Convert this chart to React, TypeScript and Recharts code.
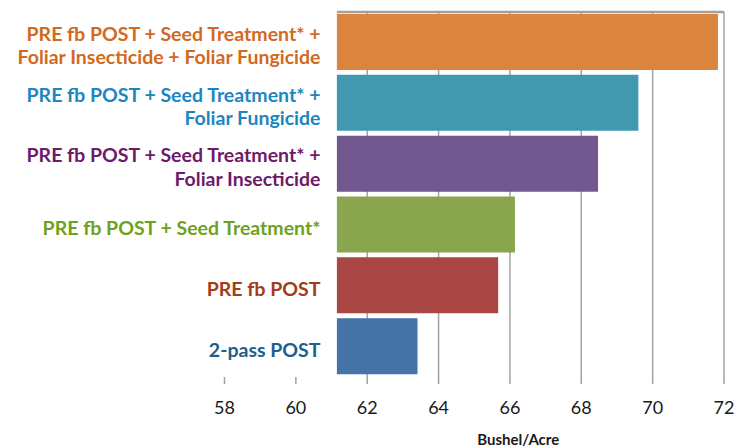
import { BarChart, Bar, XAxis, YAxis, CartesianGrid, ReferenceLine, Cell } from 'recharts';

// Yield by treatment program (bu/A), top to bottom as shown
const treatments = [
  'PRE fb POST + Seed Treatment* + Foliar Insecticide + Foliar Fungicide',
  'PRE fb POST + Seed Treatment* + Foliar Fungicide',
  'PRE fb POST + Seed Treatment* + Foliar Insecticide',
  'PRE fb POST + Seed Treatment*',
  'PRE fb POST',
  '2-pass POST',
];

// how each label wraps in the original
const labelLines = [
  ['PRE fb POST + Seed Treatment* +', 'Foliar Insecticide + Foliar Fungicide'],
  ['PRE fb POST + Seed Treatment* +', 'Foliar Fungicide'],
  ['PRE fb POST + Seed Treatment* +', 'Foliar Insecticide'],
  ['PRE fb POST + Seed Treatment*'],
  ['PRE fb POST'],
  ['2-pass POST'],
];

const yields = [71.83, 69.6, 68.47, 66.14, 65.67, 63.41];

const xTicks = [58, 60, 62, 64, 66, 68, 70, 72];
const xDomain = [58, 72];

// the left part of the plot is hidden behind the label box in the original
const visibleFrom = 61.15;

const barColors = ['#DB843D', '#4198AF', '#71588F', '#89A54E', '#AA4643', '#4572A7'];
const labelColors = ['#D2691E', '#1C86C0', '#6D1A6B', '#6FA121', '#A23C18', '#1D5F8E'];

const data = treatments.map((name, i) => ({ name, range: [visibleFrom, yields[i]] }));

const gridTicks = xTicks.filter((t) => t > visibleFrom);

function TreatmentTick({ x, y, payload }: any) {
  const i = treatments.indexOf(payload.value);
  const lines = labelLines[i] || [payload.value];
  const lh = 23.5;
  const first = -((lines.length - 1) * lh) / 2 + 7;
  const tx = x + 96;
  return (
    <text
      x={tx}
      y={y + 3}
      textAnchor="end"
      fill={labelColors[i]}
      style={{ fontFamily: 'Lato', fontWeight: 700, fontSize: 19.5 }}
    >
      {lines.map((line, k) => (
        <tspan key={k} x={tx} dy={k === 0 ? first : lh}>
          {line}
        </tspan>
      ))}
    </text>
  );
}

export default function App() {
  return (
    <div style={{ position: 'absolute', left: 0, top: 0, background: '#fff' }}>
      <BarChart
        width={737}
        height={448}
        data={data}
        layout="vertical"
        margin={{ top: 12, right: 13, bottom: 0, left: 0 }}
        style={{ fontFamily: 'Lato' }}
      >
        <CartesianGrid
          horizontal={false}
          stroke="#a3a3a3"
          strokeWidth={1.5}
          verticalCoordinatesGenerator={({ xAxis, offset }: any) =>
            gridTicks.map((t) =>
              xAxis && typeof xAxis.scale === 'function'
                ? xAxis.scale(t)
                : offset.left + ((t - xDomain[0]) / (xDomain[1] - xDomain[0])) * offset.width
            )
          }
        />
        <XAxis
          type="number"
          domain={xDomain}
          ticks={xTicks}
          interval={0}
          axisLine={false}
          tickLine={{ stroke: '#a0a0a0', strokeWidth: 1.5 }}
          tickSize={7}
          tickMargin={17}
          height={71}
          tick={{ fill: '#1a1a1a', fontSize: 18 }}
          label={{
            value: 'Bushel/Acre',
            position: 'insideBottom',
            offset: 0,
            dx: 44,
            dy: -3,
            style: { fill: '#1a1a1a', fontWeight: 700, fontSize: 15 },
          }}
        />
        <YAxis
          type="category"
          dataKey="name"
          width={224.5}
          axisLine={false}
          tickLine={false}
          tickSize={0}
          tickMargin={0}
          interval={0}
          tick={<TreatmentTick />}
        />
        <YAxis yAxisId="base" type="number" domain={[0, 1]} hide />
        <Bar dataKey="range" barSize={56} isAnimationActive={false}>
          {data.map((d, i) => (
            <Cell key={d.name} fill={barColors[i]} />
          ))}
        </Bar>
        <ReferenceLine
          yAxisId="base"
          segment={[
            { x: visibleFrom, y: 0 },
            { x: xDomain[1], y: 0 },
          ]}
          stroke="#a0a0a0"
          strokeWidth={2.5}
          ifOverflow="visible"
        />
      </BarChart>
    </div>
  );
}
